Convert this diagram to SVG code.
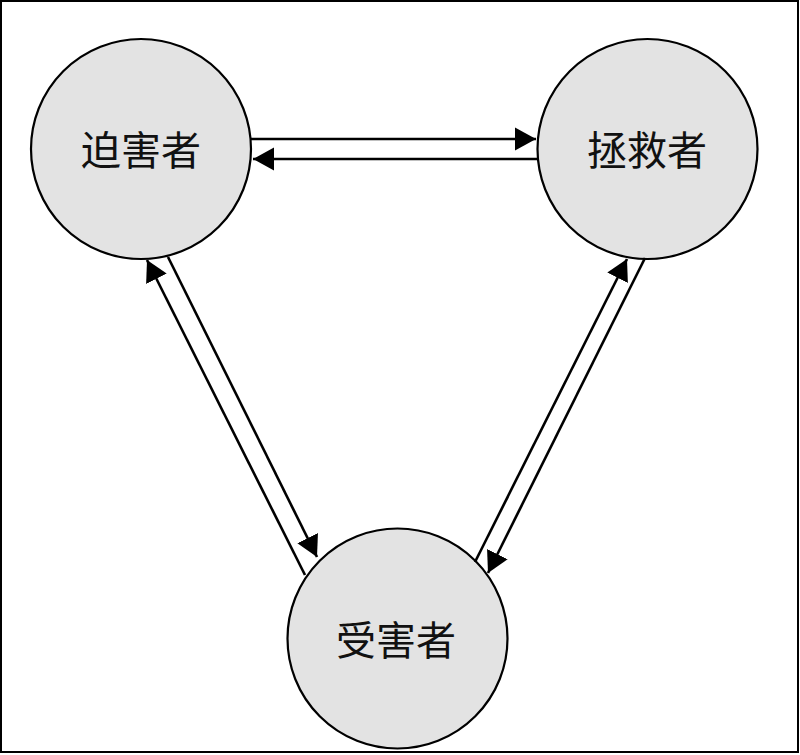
<svg xmlns="http://www.w3.org/2000/svg" width="800" height="755" viewBox="0 0 800 755">
  <style>
    .node circle { fill: #e3e3e3; stroke: #000; stroke-width: 2.2; }
    .node text { font-family: "Noto Sans CJK SC", "Noto Sans CJK JP", sans-serif; font-size: 40px; fill: #111; text-anchor: middle; }
    .conn line { stroke: #000; stroke-width: 2.6; fill: none; marker-end: url(#arrow); }
  </style>
  <defs>
    <marker id="arrow" markerUnits="userSpaceOnUse" markerWidth="22" markerHeight="24" refX="21" refY="11.5" orient="auto" viewBox="0 0 22 23">
      <path d="M0,0 L21,11.5 L0,23 Z" fill="#000"/>
    </marker>
  </defs>
  <rect x="0" y="0" width="800" height="755" fill="#fff"/>
  <rect x="1" y="1" width="797" height="751" fill="none" stroke="#000" stroke-width="2"/>
  <g id="persecutor" class="node">
    <circle cx="141" cy="149" r="110"/>
    <text x="141" y="165">迫害者</text>
  </g>
  <g id="rescuer" class="node">
    <circle cx="647.5" cy="149" r="110"/>
    <text x="647" y="165">拯救者</text>
  </g>
  <g id="victim" class="node">
    <circle cx="397.5" cy="638.5" r="110"/>
    <text x="396" y="655">受害者</text>
  </g>
  <g id="connectors" class="conn">
    <line x1="251" y1="139" x2="536" y2="139"/>
    <line x1="537" y1="159" x2="253" y2="159"/>
    <line x1="305" y1="575" x2="147" y2="260"/>
    <line x1="168" y1="257" x2="317" y2="557"/>
    <line x1="475" y1="562" x2="627" y2="259"/>
    <line x1="645" y1="258" x2="488" y2="573"/>
  </g>
</svg>
